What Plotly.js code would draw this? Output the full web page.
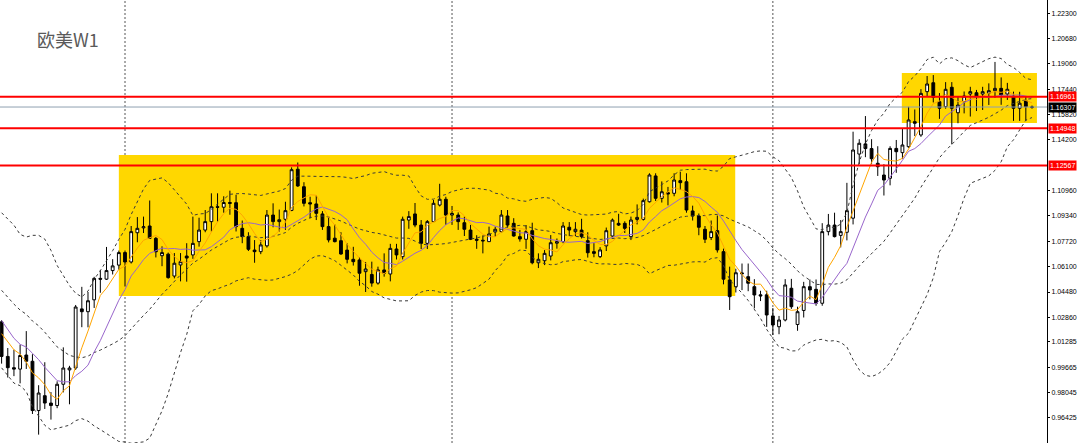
<!DOCTYPE html>
<html>
<head>
<meta charset="utf-8">
<script src="https://cdn.plot.ly/plotly-3.0.1.min.js"></script>
<style>html,body{margin:0;padding:0;background:#fff;}#chart{width:1080px;height:443px;}</style>
</head>
<body>
<div id="chart"></div>
<script>
// EUR/USD weekly candles (oldest first)
const open = [1.0257,1.0036,0.9964,0.9955,1.0045,1.0005,0.9690,0.9785,0.9738,0.9722,
0.9858,0.9950,0.9962,1.0340,1.0322,1.0398,1.0535,1.0530,1.0585,1.0620,
1.0700,1.0640,1.0827,1.0858,1.0870,1.0791,1.0680,1.0690,1.0550,1.0621,
1.0678,1.0685,1.0770,1.0844,1.0898,1.0993,1.0990,1.1020,1.1019,1.0855,
1.0802,1.0716,1.0706,1.0743,1.0940,1.0898,1.0913,1.0970,1.1233,1.1121,
1.1019,1.1011,1.0947,1.0866,1.0792,1.0776,1.0716,1.0657,1.0653,1.0578,
1.0560,1.0505,1.0589,1.0563,1.0723,1.0674,1.0908,1.0947,1.0876,1.0759,
1.0898,1.1004,1.1041,1.0940,1.0940,1.0891,1.0844,1.0785,1.0779,1.0770,
1.0832,1.0834,1.0934,1.0887,1.0802,1.0785,1.0840,1.0635,1.0648,1.0678,
1.0760,1.0770,1.0862,1.0834,1.0844,1.0776,1.0706,1.0674,1.0743,1.0806,
1.0887,1.0887,1.0802,1.0912,1.0912,1.1025,1.1190,1.1047,1.1083,1.1079,
1.1160,1.1153,1.0966,1.0934,1.0849,1.0796,1.0840,1.0706,1.0525,1.0482,
1.0570,1.0546,1.0482,1.0430,1.0430,1.0295,1.0226,1.0269,1.0472,1.0240,
1.0330,1.0482,1.0465,1.0376,1.0834,1.0876,1.0810,1.0830,1.0920,1.1330,
1.1395,1.1365,1.1271,1.1196,1.1175,1.1366,1.1339,1.1377,1.1537,1.1452,
1.1729,1.1786,1.1665,1.1633,1.1757,1.1594,1.1665,1.1714,1.1722,1.1714,
1.1719,1.1735,1.1750,1.1714,1.1701,1.1623,1.1670,1.1628];
const high = [1.0268,1.0090,1.0079,1.0112,1.0198,1.0050,0.9852,0.9999,0.9808,0.9877,
1.0094,0.9976,1.0365,1.0481,1.0448,1.0545,1.0589,1.0736,1.0658,1.0713,
1.0713,1.0870,1.0927,1.0930,1.1033,1.0800,1.0740,1.0700,1.0697,1.0697,
1.0760,1.0930,1.0923,1.0972,1.1079,1.1079,1.1060,1.1096,1.1070,1.0905,
1.0830,1.0780,1.0780,1.0972,1.1015,1.0975,1.1025,1.1245,1.1276,1.1150,
1.1057,1.1065,1.0965,1.0930,1.0880,1.0830,1.0759,1.0737,1.0670,1.0640,
1.0642,1.0610,1.0695,1.0756,1.0756,1.0930,1.0965,1.1017,1.0908,1.0908,
1.1036,1.1140,1.1057,1.0998,1.0957,1.0930,1.0877,1.0811,1.0810,1.0866,
1.0866,1.0972,1.0972,1.0920,1.0845,1.0876,1.0891,1.0695,1.0716,1.0812,
1.0790,1.0895,1.0895,1.0895,1.0916,1.0830,1.0760,1.0735,1.0860,1.0918,
1.0948,1.0900,1.0930,1.1008,1.1045,1.1207,1.1207,1.1155,1.1120,1.1207,
1.1217,1.1207,1.1000,1.0950,1.0870,1.0905,1.0937,1.0725,1.0610,1.0597,
1.0630,1.0630,1.0530,1.0456,1.0456,1.0345,1.0295,1.0530,1.0532,1.0354,
1.0513,1.0528,1.0528,1.0888,1.0947,1.0955,1.0908,1.1146,1.1473,1.1425,
1.1573,1.1425,1.1380,1.1265,1.1380,1.1420,1.1495,1.1632,1.1615,1.1745,
1.1829,1.1835,1.1720,1.1790,1.1790,1.1697,1.1730,1.1760,1.1740,1.1760,
1.1782,1.1919,1.1820,1.1785,1.1729,1.1728,1.1695,1.1640];
const low = [0.9990,0.9901,0.9910,0.9864,0.9956,0.9668,0.9536,0.9700,0.9632,0.9705,
0.9806,0.9730,0.9950,1.0223,1.0222,1.0346,1.0443,1.0525,1.0560,1.0590,
1.0483,1.0630,1.0766,1.0825,1.0790,1.0669,1.0613,1.0533,1.0535,1.0516,
1.0514,1.0660,1.0738,1.0830,1.0834,1.0898,1.0955,1.0942,1.0835,1.0760,
1.0710,1.0635,1.0690,1.0732,1.0862,1.0835,1.0845,1.0965,1.1120,1.0995,
1.0919,1.0908,1.0845,1.0765,1.0765,1.0686,1.0631,1.0617,1.0488,1.0448,
1.0482,1.0495,1.0546,1.0516,1.0656,1.0656,1.0852,1.0862,1.0723,1.0723,
1.0898,1.0995,1.0877,1.0877,1.0845,1.0806,1.0780,1.0724,1.0695,1.0770,
1.0800,1.0830,1.0860,1.0802,1.0770,1.0724,1.0625,1.0601,1.0620,1.0650,
1.0725,1.0760,1.0805,1.0805,1.0790,1.0668,1.0670,1.0665,1.0710,1.0800,
1.0870,1.0825,1.0780,1.0880,1.0905,1.1020,1.1030,1.1020,1.1002,1.1060,
1.1100,1.0955,1.0905,1.0811,1.0761,1.0780,1.0700,1.0497,1.0333,1.0445,
1.0460,1.0453,1.0343,1.0390,1.0225,1.0173,1.0178,1.0260,1.0340,1.0200,
1.0285,1.0401,1.0360,1.0360,1.0810,1.0797,1.0733,1.0778,1.0880,1.1265,
1.1310,1.1265,1.1190,1.1065,1.1130,1.1210,1.1300,1.1370,1.1445,1.1440,
1.1700,1.1660,1.1555,1.1620,1.1392,1.1527,1.1590,1.1570,1.1605,1.1612,
1.1644,1.1690,1.1645,1.1676,1.1542,1.1542,1.1542,1.1620];
const close = [1.0036,0.9964,0.9955,1.0042,1.0005,0.9690,0.9802,0.9738,0.9722,0.9858,
0.9962,0.9962,1.0352,1.0322,1.0392,1.0535,1.0530,1.0585,1.0615,1.0700,
1.0640,1.0834,1.0855,1.0865,1.0791,1.0705,1.0700,1.0540,1.0632,1.0642,
1.0665,1.0759,1.0844,1.0898,1.0993,1.0990,1.1020,1.1015,1.0866,1.0802,
1.0721,1.0706,1.0749,1.0940,1.0898,1.0910,1.0968,1.1230,1.1126,1.1015,
1.1011,1.0951,1.0866,1.0781,1.0770,1.0691,1.0657,1.0642,1.0568,1.0595,
1.0505,1.0589,1.0568,1.0727,1.0685,1.0913,1.0930,1.0876,1.0759,1.0898,
1.1015,1.1041,1.0940,1.0950,1.0898,1.0849,1.0785,1.0779,1.0775,1.0819,
1.0849,1.0940,1.0876,1.0806,1.0787,1.0834,1.0635,1.0657,1.0695,1.0763,
1.0770,1.0870,1.0844,1.0849,1.0802,1.0699,1.0695,1.0717,1.0840,1.0908,
1.0876,1.0855,1.0908,1.0925,1.1032,1.1196,1.1047,1.1089,1.1075,1.1164,
1.1147,1.0972,1.0934,1.0862,1.0785,1.0834,1.0717,1.0530,1.0418,1.0571,
1.0565,1.0504,1.0429,1.0423,1.0301,1.0237,1.0269,1.0493,1.0354,1.0322,
1.0482,1.0461,1.0376,1.0834,1.0876,1.0802,1.0834,1.0968,1.1356,1.1399,
1.1365,1.1300,1.1249,1.1164,1.1366,1.1345,1.1388,1.1548,1.1527,1.1718,
1.1778,1.1693,1.1623,1.1744,1.1623,1.1643,1.1701,1.1729,1.1701,1.1729,
1.1735,1.1750,1.1708,1.1744,1.1623,1.1655,1.1633,1.1631];
// closes of the 20 weeks before the first visible candle (indicator warm-up only)
const warmupCloses = [1.1046,1.0876,1.0810,1.0798,1.0545,1.0551,1.0411,1.0563,1.0733,1.0719,
1.0518,1.0496,1.0553,1.0427,1.0183,1.0084,1.0211,1.0223,1.0180,1.0258];

// price axis labels
const tickVals = [1.22300,1.20680,1.19060,1.17440,1.15820,1.14200,1.10960,1.09340,1.07720,1.06100,1.04480,1.02860,1.01285,0.99665,0.98045,0.96425,0.94805];
const tickText = ["1.22300","1.20680","1.19060","1.17440","1.15820","1.14200","1.10960","1.09340","1.07720","1.06100","1.04480","1.02860","1.01285","0.99665","0.98045","0.96425","0.94805"];

// horizontal levels
const redLevels = [1.16961, 1.14948, 1.12567];
const bidLevel = 1.16307;
// year separators (bar index)
const yearBars = [20, 73, 125];

const n = close.length;
const xs = close.map((_, i) => i);
const all = warmupCloses.concat(close);
const off = warmupCloses.length;
function sma(p) {
  return close.map((_, i) => {
    let s = 0; for (let k = 0; k < p; k++) s += all[off + i - k]; return s / p;
  });
}
function bands(p, d) {
  const mid = [], up = [], lo = [];
  for (let i = 0; i < n; i++) {
    let s = 0; for (let k = 0; k < p; k++) s += all[off + i - k];
    const m = s / p;
    let v = 0; for (let k = 0; k < p; k++) { const e = all[off + i - k] - m; v += e * e; }
    const sd = Math.sqrt(v / p);
    mid.push(m); up.push(m + d * sd); lo.push(m - d * sd);
  }
  return {mid, up, lo};
}
const ma5 = sma(5), ma10 = sma(10), bb = bands(20, 2);

const dotLine = {color: '#3a3a3a', width: 1, dash: '3px,3px'};
const traces = [
  {type: 'candlestick', x: xs, open: open, high: high, low: low, close: close,
   increasing: {line: {color: '#000', width: 1}, fillcolor: '#ffffff'},
   decreasing: {line: {color: '#000', width: 1}, fillcolor: '#000000'},
   whiskerwidth: 0, showlegend: false, hoverinfo: 'skip'},
  {type: 'scatter', mode: 'lines', x: xs, y: bb.up, line: dotLine, showlegend: false, hoverinfo: 'skip'},
  {type: 'scatter', mode: 'lines', x: xs, y: bb.mid, line: dotLine, showlegend: false, hoverinfo: 'skip'},
  {type: 'scatter', mode: 'lines', x: xs, y: bb.lo, line: dotLine, showlegend: false, hoverinfo: 'skip'},
  {type: 'scatter', mode: 'lines', x: xs, y: ma10, line: {color: '#9966CC', width: 1}, showlegend: false, hoverinfo: 'skip'},
  {type: 'scatter', mode: 'lines', x: xs, y: ma5, line: {color: '#FFA500', width: 1}, showlegend: false, hoverinfo: 'skip'}
];

const shapes = [
  {type: 'rect', xref: 'x', yref: 'y', x0: 19.0, x1: 118.9, y0: 1.0422, y1: 1.1324, fillcolor: '#FFD700', line: {width: 0}, layer: 'below'},
  {type: 'rect', xref: 'x', yref: 'y', x0: 145.9, x1: 167.8, y0: 1.1528, y1: 1.1848, fillcolor: '#FFD700', line: {width: 0}, layer: 'below'}
];
yearBars.forEach(b => shapes.push({type: 'line', xref: 'x', yref: 'paper', x0: b, x1: b, y0: 0, y1: 1,
  line: {color: '#555', width: 1, dash: '2px,2px'}, layer: 'below'}));
shapes.push({type: 'line', xref: 'paper', yref: 'y', x0: 0, x1: 1, y0: bidLevel, y1: bidLevel, line: {color: '#8fa0b0', width: 1}});
redLevels.forEach(v => shapes.push({type: 'line', xref: 'paper', yref: 'y', x0: 0, x1: 1, y0: v, y1: v, line: {color: '#ff0000', width: 2}}));

const tagFont = {family: 'Liberation Sans, Arial, sans-serif', size: 7, color: '#ffffff'};
const annotations = [
  {xref: 'paper', yref: 'paper', x: 35 / 1047, y: 1 - 39 / 443, xanchor: 'left', yanchor: 'middle', showarrow: false,
   text: '欧美W1', font: {family: 'Noto Sans CJK SC, sans-serif', size: 18, color: '#5a5a5a'}}
];
redLevels.forEach(v => annotations.push({xref: 'paper', yref: 'y', x: 1, y: v, xanchor: 'left', yanchor: 'middle', xshift: 1,
  showarrow: false, text: v.toFixed(5), bgcolor: '#ff0000', borderpad: 1, font: tagFont}));
annotations.push({xref: 'paper', yref: 'y', x: 1, y: bidLevel, xanchor: 'left', yanchor: 'middle', xshift: 1,
  showarrow: false, text: bidLevel.toFixed(5), bgcolor: '#000000', borderpad: 1, font: tagFont});

const layout = {
  width: 1080, height: 443,
  margin: {l: 0, r: 33, t: 0, b: 0, pad: 0},
  paper_bgcolor: '#ffffff', plot_bgcolor: '#ffffff',
  showlegend: false, boxgap: 0.35,
  xaxis: {range: [-0.26, 169.43], visible: false, rangeslider: {visible: false}, fixedrange: true},
  yaxis: {side: 'right', range: [0.94825, 1.2315], tickmode: 'array', tickvals: tickVals, ticktext: tickText,
    showgrid: false, zeroline: false, showline: true, linecolor: '#000', linewidth: 1,
    ticks: 'outside', ticklen: 2, tickcolor: '#000',
    tickfont: {family: 'Liberation Sans, Arial, sans-serif', size: 7, color: '#000'}, fixedrange: true},
  shapes: shapes, annotations: annotations
};
Plotly.newPlot('chart', traces, layout, {staticPlot: true, displayModeBar: false});
</script>
</body>
</html>
